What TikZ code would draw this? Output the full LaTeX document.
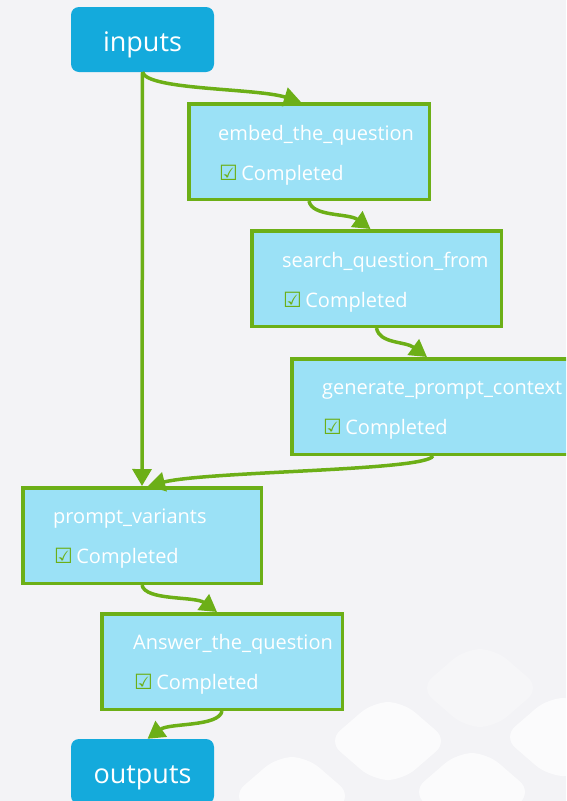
\documentclass[tikz,border=0pt]{standalone}
\usepackage{fontspec}
\setmainfont{Open Sans}
\newfontfamily\symfont{DejaVu Sans}
\usetikzlibrary{positioning,calc,arrows.meta}

\definecolor{pagebg}{HTML}{F3F3F6}
\definecolor{ioblue}{HTML}{14AADC}
\definecolor{taskfill}{HTML}{9BE1F6}
\definecolor{flowgreen}{HTML}{6CAF17}

\tikzset{
  io/.style={fill=ioblue, rounded corners=8pt, minimum width=143pt, minimum height=65pt,
    text height=23pt, text depth=0pt, text=white, font=\fontsize{27}{30}\selectfont},
  taskbox/.style={draw=flowgreen, line width=3.5pt, fill=taskfill, anchor=north west,
    minimum height=95.5pt},
  tasktext/.style={anchor=base west, inner sep=0pt, text=white,
    font=\fontsize{20}{22}\selectfont},
  flow/.style={draw=flowgreen, line width=3.5pt, -{Triangle[length=17pt,width=19pt]}},
  tile/.style={fill=white, rounded corners=16pt},
}
\newcommand{\done}{{\color{flowgreen}\symfont\bfseries\fontsize{21}{20}\selectfont ☑}\,Completed}
\newcommand{\hextile}[3]{% x, y, opacity
  \fill[tile, opacity=#3] (#1-60,#2) -- (#1-15,#2-39) -- (#1+15,#2-39) -- (#1+60,#2)
    -- (#1+15,#2+39) -- (#1-15,#2+39) -- cycle;}

\begin{document}
\begin{tikzpicture}[x=1pt, y=-1pt]
  \fill[pagebg] (0,0) rectangle (566,801);
  \useasboundingbox (0,0) rectangle (566,801);
  \clip (0,0) rectangle (566,801);

  % background tiles
  \hextile{480}{688}{0.25}
  \hextile{388}{741}{0.7}
  \hextile{563}{737}{0.7}
  \hextile{292}{796}{0.7}
  \hextile{472}{792}{0.7}

  % inputs / outputs
  \node[io] (inputs) at (142.5,39.5) {inputs};
  \node[io] (outputs) at (142.5,771.5) {outputs};

  % tasks
  \node[taskbox, minimum width=240.5pt] (embed) at (187,102) {};
  \node[tasktext] (embedname) at (218,140) {embed\_the\_question};
  \node[tasktext] (embedstate) at (219,180) {\done};

  \node[taskbox, minimum width=249.5pt] (search) at (250,229) {};
  \node[tasktext] (searchname) at (282,267) {search\_question\_from};
  \node[tasktext] (searchstate) at (283,307) {\done};

  \node[taskbox, minimum width=282.5pt] (generate) at (290,357) {};
  \node[tasktext] (generatename) at (322,394) {generate\_prompt\_context};
  \node[tasktext] (generatestate) at (323,434) {\done};

  \node[taskbox, minimum width=238.5pt] (variants) at (21,486) {};
  \node[tasktext] (variantsname) at (53,523) {prompt\_variants};
  \node[tasktext] (variantsstate) at (54,563) {\done};

  \node[taskbox, minimum width=240.5pt] (answer) at (100,612) {};
  \node[tasktext] (answername) at (133,649) {Answer\_the\_question};
  \node[tasktext] (answerstate) at (134,689) {\done};

  % connectors
  \draw[flow] (inputs.south) .. controls +(5,18) and +(-45,-14) .. ([xshift=-8pt]embed.north);
  \draw[flow] (inputs.south) -- (variants.north);
  \draw[flow] (embed.south) .. controls +(3,16) and +(-22,-16) .. ([xshift=-6pt]search.north);
  \draw[flow] (search.south) .. controls +(3,16) and +(-22,-16) .. ([xshift=-6pt]generate.north);
  \draw[flow] (generate.south) .. controls +(-8,15) and +(60,-15) .. ([xshift=6pt]variants.north);
  \draw[flow] (variants.south) .. controls +(3,16) and +(-22,-16) .. ([xshift=-5pt]answer.north);
  \draw[flow] (answer.south) .. controls +(-3,16) and +(22,-16) .. ([xshift=5pt]outputs.north);
\end{tikzpicture}
\end{document}
